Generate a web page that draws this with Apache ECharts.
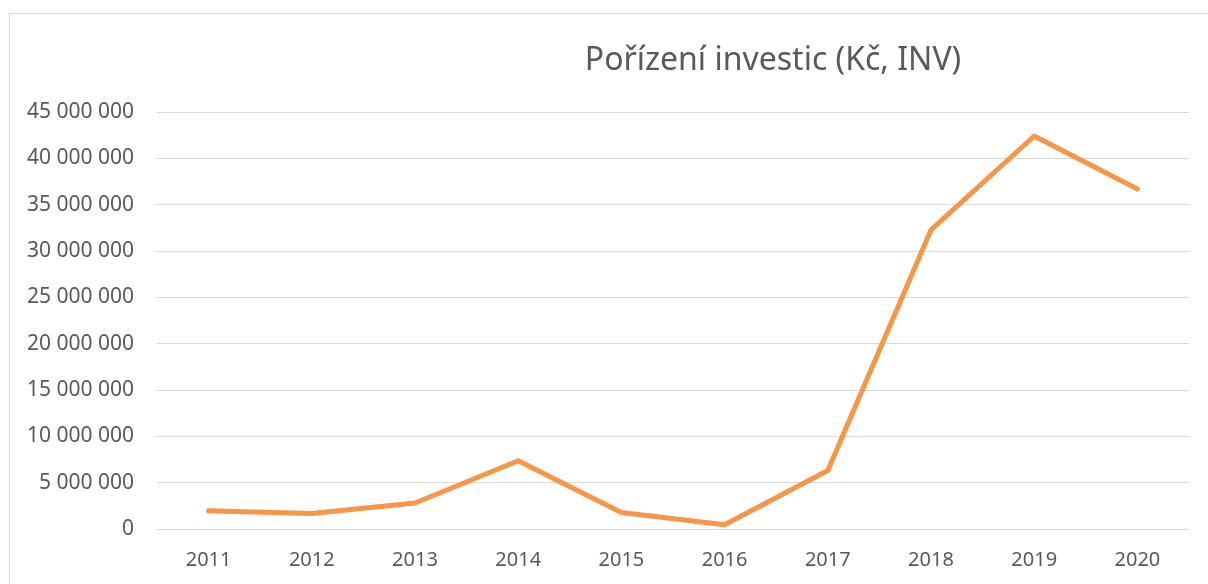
<!DOCTYPE html>
<html>
<head>
<meta charset="utf-8">
<script src="https://cdn.jsdelivr.net/npm/echarts@6/dist/echarts.min.js"></script>
<style>
html,body{margin:0;padding:0;background:#fff;}
#chart{width:1208px;height:584px;}
</style>
</head>
<body>
<div id="chart"></div>
<script>
const chartTitle = 'Pořízení investic (Kč, INV)';
const years = ['2011','2012','2013','2014','2015','2016','2017','2018','2019','2020'];
const investments = [1970000, 1680000, 2800000, 7360000, 1790000, 460000, 6320000, 32270000, 42410000, 36690000];
const yMin = 0, yMax = 45000000, yStep = 5000000;

function fmt(v){
  return String(Math.round(v)).replace(/\B(?=(\d{3})+(?!\d))/g, ' ');
}

const chart = echarts.init(document.getElementById('chart'), null, {renderer:'canvas'});
const fontFam = '"Noto Sans", "Open Sans", sans-serif';
chart.setOption({
  animation:false,
  backgroundColor:'#ffffff',
  title:{
    text: chartTitle,
    left: 768,
    top: 40,
    textAlign:'center',
    textStyle:{color:'#595959', fontSize:32, fontWeight:'normal', fontFamily:fontFam}
  },
  graphic:[{
    type:'rect',
    shape:{x:9.5, y:13.5, width:1250, height:650},
    style:{fill:'none', stroke:'#d9d9d9', lineWidth:1},
    silent:true
  }],
  grid:{left:157, right:19, top:112, bottom:55, containLabel:false},
  xAxis:{
    type:'category',
    data: years,
    boundaryGap:true,
    axisLine:{show:true, lineStyle:{color:'#d9d9d9', width:1}},
    axisTick:{show:false},
    axisLabel:{color:'#595959', fontSize:20, fontFamily:fontFam, margin:21}
  },
  yAxis:{
    type:'value',
    min:yMin, max:yMax, interval:yStep,
    axisLine:{show:false},
    axisTick:{show:false},
    splitLine:{show:true, lineStyle:{color:'#d9d9d9', width:1}},
    axisLabel:{color:'#595959', fontSize:21, fontFamily:fontFam, margin:23, formatter:fmt}
  },
  series:[{
    type:'line',
    data: investments,
    showSymbol:false,
    symbol:'none',
    lineStyle:{color:'#F79646', width:5, cap:'round', join:'round'},
    itemStyle:{color:'#F79646'}
  }]
});
</script>
</body>
</html>
